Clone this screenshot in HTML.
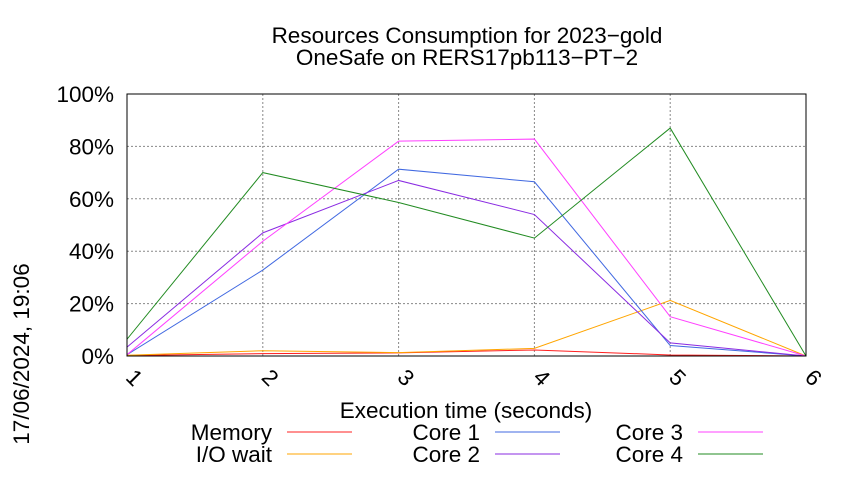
<!DOCTYPE html>
<html><head><meta charset="utf-8"><style>
body{margin:0;background:#fff}
svg text{font-family:"Liberation Sans",sans-serif;fill:#000}
</style></head><body>
<svg width="850" height="475">
<text x="467" y="43" font-size="22.5" text-anchor="middle">Resources Consumption for 2023−gold</text>
<text x="467" y="65" font-size="22.5" text-anchor="middle">OneSafe on RERS17pb113−PT−2</text>
<text transform="translate(29,354) rotate(-90)" font-size="22.5" text-anchor="middle">17/06/2024, 19:06</text>
<g id="grid"></g><g id="series"></g><g id="axes"></g>
<text x="466" y="418" font-size="22.5" text-anchor="middle">Execution time (seconds)</text>
<g id="legend"></g>
</svg>
<script>
const xs=[1,2,3,4,5,6];
const yTicks=[0,20,40,60,80,100];
const names=["Memory","I/O wait","Core 1","Core 2","Core 3","Core 4"];
const colors=["#ff2020","#ffa500","#4169e1","#8a2be2","#ff40ff","#228b22"];
const memory=[0.2,0.9,1.2,2.3,0.4,0];
const iowait=[0.3,2,1.3,2.9,21.2,0];
const core1=[0.5,32.8,71.3,66.5,4,0];
const core2=[3.4,47,67,54,5,0];
const core3=[0.5,43.8,82,82.8,15,0];
const core4=[6.4,70,58.6,45,87,0];
const series=[memory,iowait,core1,core2,core3,core4];
const L=127,R=806,T=94,B=356,NS="http://www.w3.org/2000/svg";
const sx=v=>L+(v-1)/(5)*(R-L), sy=v=>B-v/100*(B-T);
function mk(t,a,p){const e=document.createElementNS(NS,t);for(const k in a)e.setAttribute(k,a[k]);p.appendChild(e);return e;}
const grid=document.getElementById('grid'),ax=document.getElementById('axes'),sg=document.getElementById('series'),lg=document.getElementById('legend');
yTicks.forEach(v=>{
 const g=mk('line',{x1:L,x2:R,y1:sy(v),y2:sy(v),stroke:'#888','stroke-dasharray':'2,2','stroke-width':1},grid);
 
 
 const t=mk('text',{x:L-13,y:sy(v)+8,'font-size':22.5,'text-anchor':'end'},ax);t.textContent=v+'%';
 
 
});
xs.forEach(v=>{
 const g=mk('line',{x1:sx(v),x2:sx(v),y1:T,y2:B,stroke:'#888','stroke-dasharray':'2,2','stroke-width':1},grid);
 
 
 const t=mk('text',{transform:`translate(${sx(v)+2},${B+27}) rotate(45)`,'font-size':22.5,'text-anchor':'middle'},ax);t.textContent=v;
 
 
});
const fr=mk('rect',{x:L,y:T,width:R-L,height:B-T,fill:'none',stroke:'#000','stroke-width':1},ax);


series.forEach((s,i)=>{
 const p=mk('polyline',{points:s.map((v,j)=>sx(xs[j])+','+sy(v)).join(' '),fill:'none',stroke:colors[i],'stroke-width':1},sg);
 
 
});
const lx=[272,480,683],ly=[440,462];
names.forEach((n,i)=>{
 const c=Math.floor(i/2),r=i%2;
 const t=mk('text',{x:lx[c],y:ly[r],'font-size':22.5,'text-anchor':'end'},lg);t.textContent=n;
 
 
 const l=mk('line',{x1:lx[c]+15,x2:lx[c]+80,y1:ly[r]-8,y2:ly[r]-8,stroke:colors[i],'stroke-width':1},lg);
 
 
});
</script>
</body></html>
